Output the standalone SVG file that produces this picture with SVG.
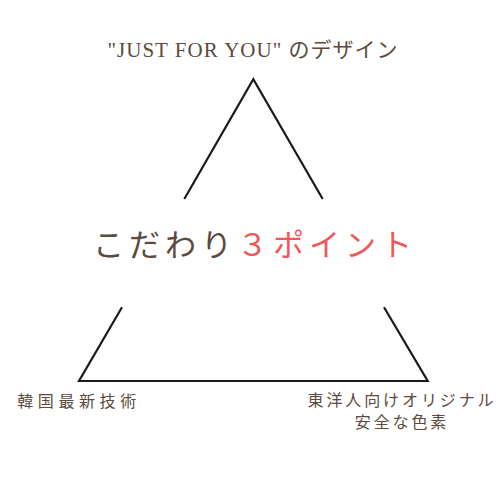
<svg xmlns="http://www.w3.org/2000/svg" width="500" height="500" viewBox="0 0 500 500">
<style>
.t{font-family:"Liberation Serif","Noto Sans CJK JP",serif;fill:#5b4a40}
.r{fill:#f25757}
.ln{stroke:#1a1a1a;stroke-width:2.2;fill:none;stroke-linecap:butt}
</style>
<rect width="500" height="500" fill="#ffffff"/>
<g id="connectors">
<polyline class="ln" points="184.3,199 253.3,79.3 322.7,199"/>
<polyline class="ln" points="122,307.3 79,381 427.7,381 384,307.3"/>
</g>
<g id="title">
<text class="t" x="253" y="57" font-size="21" text-anchor="middle" letter-spacing="1">"JUST FOR YOU" のデザイン</text>
</g>
<g id="center">
<text class="t" x="255" y="256" font-size="31" text-anchor="middle" letter-spacing="5">こだわり<tspan class="r">３ポイント</tspan></text>
</g>
<g id="left">
<text class="t" x="79" y="407" font-size="16" text-anchor="middle" letter-spacing="4.6">韓国最新技術</text>
</g>
<g id="right">
<text class="t" x="402" y="406" font-size="16" text-anchor="middle" letter-spacing="2.9">東洋人向けオリジナル</text>
<text class="t" x="402" y="428" font-size="16" text-anchor="middle" letter-spacing="2.9">安全な色素</text>
</g>
</svg>
